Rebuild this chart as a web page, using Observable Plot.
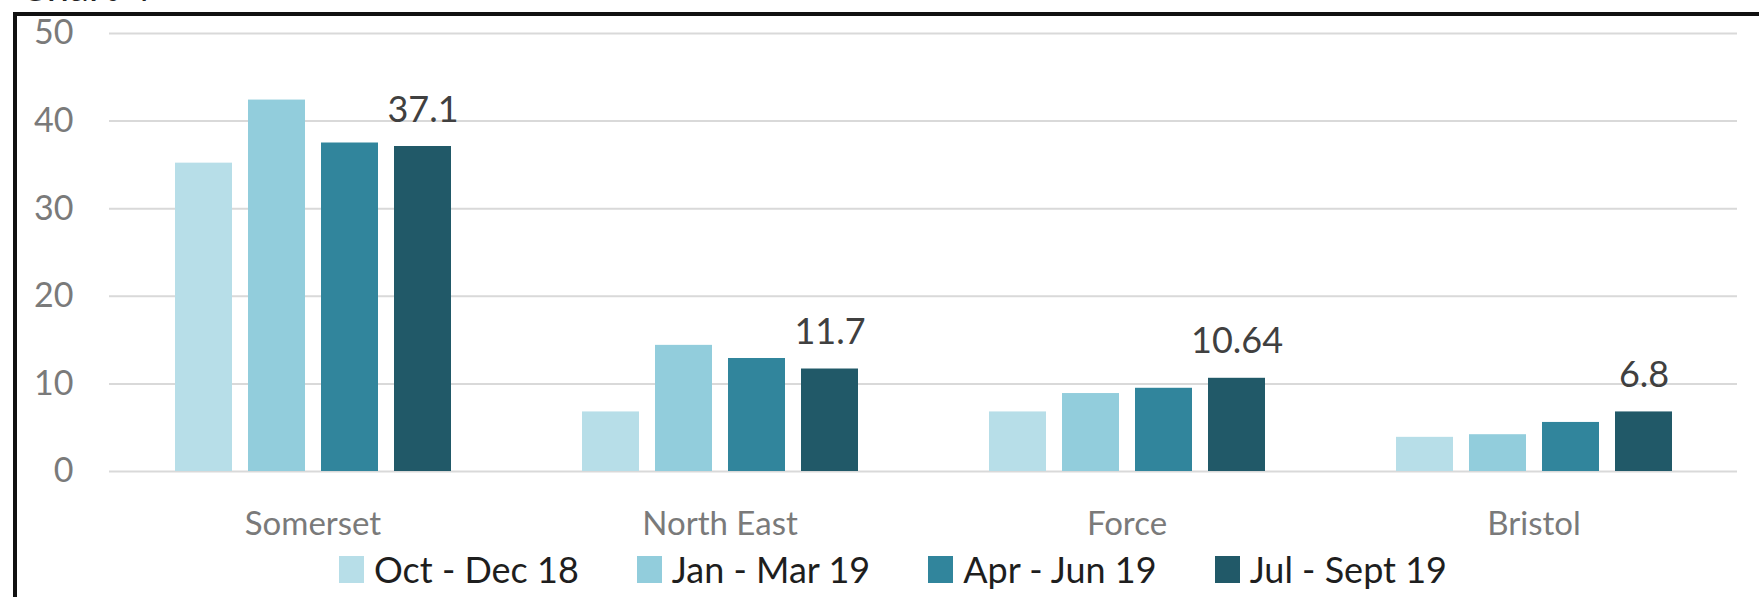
<!DOCTYPE html>
<html><head><meta charset="utf-8">
<script src="https://cdn.jsdelivr.net/npm/d3@7"></script>
<script src="https://cdn.jsdelivr.net/npm/@observablehq/plot@0.6"></script>
<style>
body{margin:0;background:#fff;}
#page{position:relative;width:1759px;height:597px;overflow:hidden;background:#fff;font-family:Lato, sans-serif;}
#title{position:absolute;left:20px;top:-34px;font-size:40px;line-height:40px;color:#222;white-space:nowrap;}
#frame{position:absolute;left:13px;top:12px;width:1800px;height:700px;border-left:4px solid #111;border-top:4px solid #111;box-sizing:border-box;}
#chart{position:absolute;left:0;top:0;}
#legend{position:absolute;left:339px;top:551px;display:flex;align-items:center;font-size:36px;line-height:36px;color:#1e1e1e;white-space:nowrap;}
.item{display:flex;align-items:center;margin-right:58px;}
.sw{width:25px;height:27px;margin-right:10px;flex:none;}
</style>
</head><body>
<div id="page">
  <div id="title">Chart 4</div>
  <div id="frame"></div>
  <div id="chart"></div>
  <div id="legend"></div>
</div>
<script>
const regions = ["Somerset", "North East", "Force", "Bristol"];
const periods = ["Oct - Dec 18", "Jan - Mar 19", "Apr - Jun 19", "Jul - Sept 19"];
const octDec18 = [35.2, 6.8, 6.8, 3.9];
const janMar19 = [42.4, 14.4, 8.9, 4.2];
const aprJun19 = [37.5, 12.9, 9.5, 5.6];
const julSept19 = [37.1, 11.7, 10.64, 6.8];
const yTicks = [0, 10, 20, 30, 40, 50];
const colors = ["#b7dee8", "#92cddc", "#31859c", "#215968"];

const series = [octDec18, janMar19, aprJun19, julSept19];
const data = regions.flatMap((r, i) => periods.map((p, j) => ({region: r, period: p, value: series[j][i]})));
const labelData = data.filter(d => d.period === periods[3]);

const chart = Plot.plot({
  width: 1759,
  height: 545,
  marginLeft: 108,
  marginRight: 21,
  marginTop: 33,
  marginBottom: 74,
  style: {fontFamily: "Lato, sans-serif", background: "transparent", overflow: "visible"},
  fx: {domain: regions, padding: 0, label: null},
  x: {domain: periods, paddingInner: 0.22, paddingOuter: 0.885, axis: null},
  y: {domain: [0, 50], label: null},
  color: {domain: periods, range: colors},
  marks: [
    Plot.gridY(yTicks, {stroke: "#d9d9d9", strokeOpacity: 1, strokeWidth: 2}),
    Plot.axisY(yTicks, {tickSize: 0, tickPadding: 36, fontSize: 34, fill: "#7a7a7a", label: null}),
    Plot.axisFx({anchor: "bottom", tickSize: 0, tickPadding: 40, fontSize: 33, fill: "#7a7a7a", label: null}),
    Plot.barY(data, {fx: "region", x: "period", y: "value", fill: "period"}),
    Plot.text(labelData, {fx: "region", x: "period", y: "value", text: d => String(d.value), lineAnchor: "bottom", dy: -25, fontSize: 36, fill: "#404040"})
  ]
});
document.getElementById("chart").appendChild(chart);

const legend = document.getElementById("legend");
periods.forEach((p, i) => {
  const item = document.createElement("div");
  item.className = "item";
  const sw = document.createElement("span");
  sw.className = "sw";
  sw.style.background = colors[i];
  const t = document.createElement("span");
  t.textContent = p;
  item.appendChild(sw);
  item.appendChild(t);
  legend.appendChild(item);
});
</script>
</body></html>
